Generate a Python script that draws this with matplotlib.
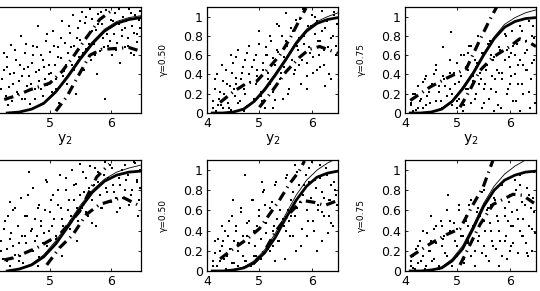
import matplotlib
matplotlib.use("Agg")
import matplotlib.pyplot as plt

# scatter points, one pair of lists per panel (row, column)
a_x = [4.22, 4.25, 4.28, 4.3, 4.33, 4.36, 4.38, 4.41, 4.44, 4.46, 4.5, 4.52, 4.55, 4.57, 4.6, 4.62, 4.65, 4.68, 4.7, 4.73, 4.76, 4.78, 4.8, 4.83, 4.86, 4.88, 4.9, 4.93, 4.96, 4.98, 5.0, 5.03, 5.05, 5.08, 5.1, 5.13, 5.15, 5.18, 5.2, 5.23, 5.25, 5.28, 5.3, 5.33, 5.36, 5.38, 5.4, 5.43, 5.46, 5.48, 5.5, 5.53, 5.56, 5.58, 5.6, 5.63, 5.66, 5.68, 5.7, 5.73, 5.76, 5.78, 5.8, 5.83, 5.86, 5.88, 5.9, 5.93, 5.96, 5.98, 6.0, 6.03, 6.06, 6.08, 6.1, 6.13, 6.16, 6.18, 6.2, 6.23, 6.26, 6.28, 6.3, 6.33, 6.36, 6.38, 6.4, 6.43, 6.46, 6.48]
a_y = [0.35, 0.62, 0.18, 0.48, 0.27, 0.71, 0.12, 0.41, 0.55, 0.22, 0.33, 0.8, 0.15, 0.46, 0.62, 0.28, 0.38, 0.09, 0.52, 0.7, 0.25, 0.43, 0.9, 0.33, 0.6, 0.18, 0.48, 0.75, 0.29, 0.4, 0.63, 0.22, 0.85, 0.5, 0.35, 0.68, 0.1, 0.57, 0.95, 0.44, 0.73, 0.3, 0.62, 0.83, 0.5, 1.02, 0.7, 0.2, 0.88, 0.58, 0.76, 1.05, 0.45, 0.93, 0.66, 0.81, 1.08, 0.55, 0.98, 0.72, 0.86, 0.4, 1.03, 0.64, 0.92, 0.78, 0.15, 1.07, 0.7, 0.88, 0.97, 0.6, 0.82, 1.04, 0.73, 0.92, 0.52, 0.86, 1.0, 0.68, 0.95, 0.78, 1.08, 0.62, 0.9, 0.83, 1.02, 0.74, 0.96, 0.88]

b_x = [4.12, 4.15, 4.18, 4.2, 4.23, 4.26, 4.3, 4.33, 4.36, 4.4, 4.43, 4.46, 4.5, 4.53, 4.56, 4.6, 4.63, 4.66, 4.7, 4.73, 4.76, 4.8, 4.83, 4.86, 4.9, 4.93, 4.96, 5.0, 5.03, 5.06, 5.1, 5.13, 5.16, 5.2, 5.23, 5.26, 5.3, 5.33, 5.36, 5.4, 5.43, 5.46, 5.5, 5.53, 5.56, 5.6, 5.63, 5.66, 5.7, 5.73, 5.76, 5.8, 5.83, 5.86, 5.9, 5.93, 5.96, 6.0, 6.03, 6.06, 6.1, 6.13, 6.16, 6.2, 6.23, 6.26, 6.3, 6.33, 6.36, 6.4, 6.43, 6.46, 6.48, 4.45, 4.7, 5.05, 5.45, 5.9, 6.25, 4.95, 5.25, 5.75, 6.1, 4.3, 4.55, 5.15]
b_y = [0.05, 0.25, 0.02, 0.4, 0.15, 0.08, 0.33, 0.2, 0.45, 0.1, 0.28, 0.03, 0.52, 0.18, 0.36, 0.65, 0.12, 0.42, 0.25, 0.55, 0.07, 0.7, 0.32, 0.48, 0.15, 0.6, 0.38, 0.85, 0.22, 0.52, 0.05, 0.68, 0.42, 0.3, 0.75, 0.57, 0.14, 0.92, 0.63, 0.35, 0.8, 0.48, 1.04, 0.7, 0.25, 0.88, 0.55, 0.4, 0.96, 0.65, 0.78, 0.3, 1.08, 0.72, 0.52, 0.9, 0.62, 1.02, 0.42, 0.82, 0.95, 0.6, 0.75, 1.06, 0.5, 0.88, 0.68, 0.98, 0.35, 0.8, 1.05, 0.6, 0.92, 0.6, 0.02, 0.12, 0.15, 0.25, 0.28, 0.45, 0.05, 0.5, 0.45, 0.05, 0.3, 0.6]

c_x = [4.12, 4.15, 4.2, 4.25, 4.3, 4.35, 4.4, 4.45, 4.5, 4.55, 4.6, 4.65, 4.7, 4.72, 4.75, 4.8, 4.85, 4.88, 4.9, 4.95, 5.0, 5.03, 5.06, 5.1, 5.13, 5.16, 5.2, 5.23, 5.26, 5.3, 5.33, 5.36, 5.4, 5.43, 5.46, 5.5, 5.53, 5.56, 5.6, 5.63, 5.66, 5.7, 5.73, 5.76, 5.8, 5.83, 5.86, 5.9, 5.93, 5.96, 6.0, 6.03, 6.06, 6.1, 6.13, 6.16, 6.2, 6.23, 6.26, 6.3, 6.33, 6.36, 6.4, 6.43, 6.46, 6.48, 6.45, 6.38, 6.2, 6.0, 5.7, 5.5, 4.6, 5.0, 5.2, 5.8, 6.1, 6.3, 5.95, 5.45, 4.85, 4.4, 6.25, 6.05, 5.65, 5.35]
c_y = [0.1, 0.02, 0.2, 0.05, 0.15, 0.32, 0.08, 0.22, 0.01, 0.4, 0.12, 0.28, 0.05, 0.68, 0.35, 0.18, 0.42, 0.84, 0.08, 0.3, 0.52, 0.15, 0.38, 0.02, 0.6, 0.25, 0.45, 0.7, 0.1, 0.33, 0.55, 0.2, 0.8, 0.42, 0.05, 0.62, 0.3, 0.5, 0.15, 0.75, 0.38, 0.58, 0.22, 0.45, 0.68, 0.05, 0.35, 0.55, 0.8, 0.25, 0.48, 0.62, 0.12, 0.4, 0.72, 0.3, 0.55, 0.85, 0.2, 0.45, 0.65, 0.95, 0.35, 0.52, 0.78, 0.1, 0.9, 0.05, 0.02, 0.3, 0.02, 0.25, 0.5, 0.05, 0.62, 0.42, 0.6, 0.75, 0.65, 0.35, 0.25, 0.38, 0.5, 0.85, 0.6, 0.48]

d_x = [4.2, 4.23, 4.27, 4.3, 4.34, 4.37, 4.4, 4.43, 4.47, 4.5, 4.53, 4.56, 4.6, 4.63, 4.66, 4.7, 4.73, 4.76, 4.8, 4.83, 4.86, 4.9, 4.93, 4.96, 5.0, 5.03, 5.06, 5.1, 5.13, 5.16, 5.2, 5.23, 5.26, 5.3, 5.33, 5.36, 5.4, 5.43, 5.46, 5.5, 5.53, 5.56, 5.6, 5.63, 5.66, 5.7, 5.73, 5.76, 5.8, 5.83, 5.86, 5.9, 5.93, 5.96, 6.0, 6.03, 6.06, 6.1, 6.13, 6.16, 6.2, 6.23, 6.26, 6.3, 6.33, 6.36, 6.4, 6.43, 6.46, 6.48, 4.5, 4.8, 5.2, 4.35, 4.65, 5.0, 5.45, 5.7, 6.15, 6.45]
d_y = [0.3, 0.12, 0.5, 0.22, 0.05, 0.38, 0.6, 0.16, 0.45, 0.28, 0.72, 0.08, 0.35, 0.55, 0.2, 0.42, 0.82, 0.3, 0.62, 0.14, 0.5, 0.38, 0.9, 0.25, 0.58, 0.45, 0.75, 0.32, 0.65, 0.95, 0.52, 0.28, 0.8, 0.6, 0.42, 1.0, 0.7, 0.86, 0.5, 1.06, 0.62, 0.78, 0.92, 0.55, 1.04, 0.7, 0.85, 0.45, 0.98, 0.75, 0.62, 1.08, 0.82, 0.92, 0.68, 1.02, 0.78, 0.58, 0.95, 0.85, 0.72, 1.05, 0.9, 0.65, 0.98, 0.8, 1.07, 0.88, 0.7, 1.0, 0.1, 0.05, 0.15, 0.68, 0.98, 0.3, 0.3, 0.48, 0.62, 0.55]

e_x = [4.12, 4.16, 4.2, 4.24, 4.28, 4.32, 4.36, 4.4, 4.44, 4.48, 4.52, 4.56, 4.6, 4.64, 4.68, 4.72, 4.76, 4.8, 4.84, 4.88, 4.92, 4.96, 5.0, 5.04, 5.08, 5.12, 5.16, 5.2, 5.24, 5.28, 5.32, 5.36, 5.4, 5.44, 5.48, 5.52, 5.56, 5.6, 5.64, 5.68, 5.72, 5.76, 5.8, 5.84, 5.88, 5.92, 5.96, 6.0, 6.04, 6.08, 6.12, 6.16, 6.2, 6.24, 6.28, 6.32, 6.36, 6.4, 6.44, 6.48, 4.3, 4.6, 4.9, 5.1, 5.3, 5.5, 5.7, 5.9, 6.1, 6.3, 6.45, 4.5, 5.05, 5.6, 6.2, 5.25, 4.75, 5.95, 6.35, 5.45]
e_y = [0.1, 0.3, 0.05, 0.2, 0.45, 0.12, 0.02, 0.35, 0.22, 0.55, 0.08, 0.4, 0.28, 0.62, 0.15, 0.95, 0.35, 0.5, 0.05, 0.7, 0.25, 0.45, 0.6, 0.12, 0.8, 0.38, 0.55, 0.2, 0.68, 0.45, 0.88, 0.3, 0.6, 0.75, 0.12, 0.95, 0.5, 0.7, 0.35, 1.05, 0.62, 0.85, 0.25, 0.75, 0.95, 0.5, 0.68, 1.08, 0.4, 0.82, 0.6, 0.92, 0.3, 0.72, 1.02, 0.55, 0.85, 0.45, 0.98, 0.65, 0.3, 0.05, 0.15, 0.65, 0.1, 0.4, 0.2, 0.35, 0.2, 0.38, 0.8, 0.7, 0.88, 0.55, 0.58, 0.25, 0.1, 0.88, 0.7, 0.52]

f_x = [4.12, 4.16, 4.2, 4.25, 4.3, 4.35, 4.4, 4.45, 4.5, 4.55, 4.6, 4.65, 4.7, 4.75, 4.8, 4.82, 4.85, 4.9, 4.95, 5.0, 5.03, 5.06, 5.1, 5.13, 5.16, 5.2, 5.23, 5.26, 5.3, 5.33, 5.36, 5.4, 5.43, 5.46, 5.5, 5.53, 5.56, 5.6, 5.63, 5.66, 5.7, 5.73, 5.76, 5.8, 5.83, 5.86, 5.9, 5.93, 5.96, 6.0, 6.03, 6.06, 6.1, 6.13, 6.16, 6.2, 6.23, 6.26, 6.3, 6.33, 6.36, 6.4, 6.43, 6.46, 6.48, 4.5, 5.0, 5.5, 6.0, 6.45, 5.2, 5.8, 6.2, 5.4, 5.9, 6.35, 4.7, 6.05, 5.65, 6.25]
f_y = [0.05, 0.15, 0.02, 0.25, 0.1, 0.4, 0.05, 0.2, 0.3, 0.12, 0.45, 0.02, 0.25, 0.35, 0.15, 0.75, 0.5, 0.05, 0.3, 0.42, 0.6, 0.2, 0.35, 0.08, 0.5, 0.28, 0.65, 0.15, 0.42, 0.05, 0.7, 0.3, 0.55, 0.18, 0.8, 0.4, 0.6, 0.1, 0.48, 0.3, 0.72, 0.22, 0.55, 0.4, 0.85, 0.15, 0.62, 0.35, 0.5, 0.75, 0.25, 0.45, 0.9, 0.6, 0.18, 0.4, 0.68, 0.52, 0.28, 0.82, 0.45, 0.62, 0.2, 0.98, 0.38, 0.55, 0.15, 0.25, 0.2, 0.72, 0.45, 0.05, 0.85, 0.62, 0.3, 0.15, 0.45, 0.58, 0.65, 0.35]

# second batch of scatter points
more_x_left = [4.2, 4.24, 4.29, 4.32, 4.35, 4.4, 4.43, 4.48, 4.51, 4.54, 4.59, 4.61, 4.64, 4.69, 4.72, 4.75, 4.79, 4.82, 4.85, 4.89, 4.92, 4.95, 4.99, 5.02, 5.07, 5.11, 5.14, 5.19, 5.22, 5.27, 5.31, 5.35, 5.39, 5.44, 5.49, 5.54, 5.59, 5.64, 5.69, 5.74, 5.79, 5.84, 5.89, 5.94, 5.99, 6.04, 6.09, 6.14, 6.19, 6.24, 6.29, 6.34, 6.39, 6.44, 6.49]
more_x = [4.12, 4.16, 4.21, 4.25, 4.29, 4.34, 4.38, 4.42, 4.47, 4.51, 4.55, 4.6, 4.64, 4.68, 4.73, 4.77, 4.81, 4.86, 4.9, 4.94, 4.99, 5.03, 5.07, 5.12, 5.16, 5.2, 5.25, 5.29, 5.33, 5.38, 5.42, 5.46, 5.51, 5.55, 5.59, 5.64, 5.68, 5.72, 5.77, 5.81, 5.85, 5.9, 5.94, 5.98, 6.03, 6.07, 6.11, 6.16, 6.2, 6.24, 6.29, 6.33, 6.37, 6.42, 6.46]
more_a_y = [0.25, 0.45, 0.58, 0.08, 0.4, 0.3, 0.65, 0.2, 0.5, 0.38, 0.15, 0.72, 0.48, 0.3, 0.6, 0.15, 0.68, 0.45, 0.25, 0.55, 0.35, 0.82, 0.5, 0.42, 0.7, 0.25, 0.58, 0.78, 0.38, 0.5, 0.9, 0.68, 0.45, 0.78, 0.95, 0.62, 1.0, 0.72, 0.85, 0.6, 0.92, 1.05, 0.68, 0.82, 0.75, 0.95, 0.65, 1.08, 0.8, 0.88, 0.7, 1.04, 0.6, 0.82, 1.06]
more_b_y = [0.12, 0.35, 0.08, 0.22, 0.5, 0.15, 0.3, 0.05, 0.42, 0.25, 0.58, 0.1, 0.35, 0.48, 0.2, 0.62, 0.4, 0.1, 0.55, 0.3, 0.72, 0.18, 0.45, 0.6, 0.35, 0.8, 0.22, 0.5, 0.65, 0.9, 0.42, 0.58, 0.75, 0.2, 0.62, 0.85, 0.45, 0.7, 0.98, 0.55, 0.8, 0.38, 0.68, 0.9, 0.58, 1.0, 0.75, 0.48, 0.85, 0.65, 0.95, 0.4, 0.78, 1.02, 0.7]
more_c_y = [0.08, 0.2, 0.03, 0.28, 0.12, 0.05, 0.35, 0.18, 0.1, 0.3, 0.02, 0.45, 0.22, 0.12, 0.38, 0.28, 0.08, 0.55, 0.2, 0.42, 0.12, 0.32, 0.6, 0.08, 0.48, 0.25, 0.7, 0.38, 0.15, 0.52, 0.3, 0.62, 0.1, 0.45, 0.72, 0.25, 0.55, 0.35, 0.08, 0.65, 0.42, 0.82, 0.2, 0.58, 0.38, 0.7, 0.12, 0.5, 0.9, 0.3, 0.62, 0.45, 0.22, 0.8, 0.55]
more_d_y = [0.2, 0.42, 0.1, 0.55, 0.32, 0.25, 0.62, 0.45, 0.15, 0.35, 0.55, 0.28, 0.75, 0.4, 0.2, 0.52, 0.35, 0.65, 0.45, 0.28, 0.6, 0.88, 0.4, 0.7, 0.52, 0.35, 0.8, 0.62, 0.45, 0.92, 0.7, 0.55, 0.85, 0.62, 0.75, 0.98, 0.58, 0.82, 0.7, 1.02, 0.88, 0.62, 0.95, 0.78, 1.05, 0.85, 0.72, 0.92, 1.0, 0.8, 0.95, 0.75, 1.08, 0.9, 0.82]
more_e_y = [0.05, 0.18, 0.32, 0.1, 0.25, 0.4, 0.15, 0.5, 0.08, 0.3, 0.45, 0.2, 0.58, 0.35, 0.1, 0.48, 0.28, 0.7, 0.4, 0.15, 0.55, 0.32, 0.78, 0.48, 0.22, 0.62, 0.4, 0.85, 0.52, 0.3, 0.72, 0.45, 0.92, 0.6, 0.35, 0.78, 0.55, 0.98, 0.68, 0.42, 0.85, 0.6, 1.02, 0.72, 0.5, 0.9, 0.65, 1.05, 0.78, 0.55, 0.95, 0.7, 0.48, 0.88, 0.75]
more_f_y = [0.1, 0.03, 0.22, 0.08, 0.3, 0.15, 0.02, 0.38, 0.2, 0.1, 0.42, 0.28, 0.05, 0.5, 0.32, 0.18, 0.6, 0.4, 0.1, 0.48, 0.25, 0.65, 0.35, 0.12, 0.55, 0.3, 0.7, 0.45, 0.2, 0.58, 0.35, 0.78, 0.5, 0.15, 0.62, 0.4, 0.25, 0.7, 0.5, 0.3, 0.85, 0.55, 0.12, 0.68, 0.45, 0.28, 0.8, 0.52, 0.95, 0.35, 0.65, 0.18, 0.75, 0.42, 0.58]

# smooth curves (thick = true, thin = estimate)
curve_x_a = [4.3, 4.5, 4.7, 4.9, 5.1, 5.3, 5.5, 5.7, 5.9, 6.1, 6.3, 6.5]
thick_a = [0.0, 0.01, 0.04, 0.1, 0.22, 0.38, 0.56, 0.72, 0.85, 0.93, 0.97, 0.99]
thin_a = [0.0, 0.01, 0.04, 0.11, 0.23, 0.4, 0.58, 0.74, 0.87, 0.95, 0.99, 1.01]
curve_x = [4.1, 4.3, 4.5, 4.7, 4.9, 5.1, 5.3, 5.5, 5.7, 5.9, 6.1, 6.3, 6.5]
thick_b = [0.0, 0.0, 0.01, 0.04, 0.12, 0.24, 0.39, 0.55, 0.72, 0.85, 0.93, 0.97, 0.99]
thin_b = [0.0, 0.0, 0.01, 0.05, 0.13, 0.26, 0.41, 0.57, 0.74, 0.87, 0.95, 1.0, 1.04]
thick_c = [0.0, 0.0, 0.01, 0.04, 0.12, 0.25, 0.41, 0.6, 0.77, 0.89, 0.95, 0.98, 0.99]
thin_c = [0.0, 0.0, 0.01, 0.05, 0.13, 0.27, 0.43, 0.62, 0.79, 0.92, 0.99, 1.04, 1.07]
thick_d = [0.0, 0.02, 0.06, 0.14, 0.27, 0.44, 0.62, 0.78, 0.89, 0.95, 0.98, 0.99]
thin_d = [0.0, 0.02, 0.07, 0.16, 0.3, 0.47, 0.65, 0.8, 0.91, 0.98, 1.02, 1.05]
thick_e = [0.0, 0.0, 0.01, 0.03, 0.08, 0.18, 0.33, 0.52, 0.7, 0.84, 0.93, 0.97, 0.99]
thin_e = [0.0, 0.0, 0.01, 0.04, 0.1, 0.21, 0.37, 0.56, 0.75, 0.9, 1.0, 1.07, 1.12]
thick_f = [0.0, 0.0, 0.01, 0.03, 0.1, 0.22, 0.42, 0.64, 0.8, 0.9, 0.95, 0.98, 0.99]
thin_f = [0.0, 0.0, 0.01, 0.04, 0.12, 0.25, 0.45, 0.67, 0.84, 0.96, 1.04, 1.1, 1.14]

# dash-dot bands (upper / lower)
up_a_x = [4.25, 4.45, 4.67, 5.0, 5.2, 5.38, 5.6, 5.82, 6.05]
up_a_y = [0.14, 0.18, 0.24, 0.31, 0.43, 0.58, 0.78, 0.97, 1.08]
lo_a_x = [5.1, 5.28, 5.49, 5.66, 5.85, 6.1, 6.3, 6.5]
lo_a_y = [0.02, 0.17, 0.41, 0.6, 0.66, 0.67, 0.68, 0.64]
up_b_x = [4.25, 4.5, 4.76, 4.95, 5.2, 5.39, 5.58, 5.77, 5.89]
up_b_y = [0.11, 0.22, 0.31, 0.33, 0.48, 0.6, 0.77, 0.97, 1.09]
lo_b_x = [5.0, 5.26, 5.51, 5.77, 5.95, 6.15, 6.35, 6.5]
lo_b_y = [0.06, 0.24, 0.43, 0.58, 0.66, 0.69, 0.65, 0.62]
up_c_x = [4.1, 4.48, 4.79, 5.17, 5.43, 5.62, 5.75]
up_c_y = [0.13, 0.27, 0.36, 0.46, 0.76, 0.97, 1.1]
lo_c_x = [5.05, 5.24, 5.43, 5.68, 6.0, 6.19, 6.38, 6.5]
lo_c_y = [0.06, 0.24, 0.44, 0.58, 0.69, 0.77, 0.73, 0.69]
up_d_x = [4.25, 4.4, 4.79, 5.16, 5.49, 5.77, 5.98]
up_d_y = [0.11, 0.13, 0.23, 0.36, 0.59, 0.93, 1.06]
lo_d_x = [4.95, 5.16, 5.38, 5.6, 5.82, 6.2, 6.5]
lo_d_y = [0.06, 0.23, 0.36, 0.56, 0.66, 0.73, 0.64]
up_e_x = [4.25, 4.5, 4.75, 5.0, 5.19, 5.38, 5.57, 5.76, 5.86]
up_e_y = [0.12, 0.22, 0.31, 0.42, 0.56, 0.7, 0.86, 0.99, 1.09]
lo_e_x = [4.88, 5.1, 5.32, 5.57, 5.82, 6.05, 6.25, 6.5]
lo_e_y = [0.07, 0.2, 0.4, 0.57, 0.7, 0.68, 0.65, 0.7]
up_f_x = [4.1, 4.48, 4.79, 5.05, 5.3, 5.49, 5.68]
up_f_y = [0.14, 0.27, 0.36, 0.42, 0.66, 0.83, 1.1]
lo_f_x = [5.05, 5.24, 5.43, 5.68, 6.06, 6.25, 6.44, 6.5]
lo_f_y = [0.06, 0.26, 0.46, 0.66, 0.76, 0.75, 0.68, 0.66]

gamma_labels = ["\u03b3=0.25", "\u03b3=0.50", "\u03b3=0.75"]
x_ticks = [4, 5, 6]
y_ticks = [0, 0.2, 0.4, 0.6, 0.8, 1]
y_tick_labels = ["0", "0.2", "0.4", "0.6", "0.8", "1"]

panels = [
    (a_x + more_x_left, a_y + more_a_y, curve_x_a, thick_a, thin_a, up_a_x, up_a_y, lo_a_x, lo_a_y),
    (b_x + more_x, b_y + more_b_y, curve_x, thick_b, thin_b, up_b_x, up_b_y, lo_b_x, lo_b_y),
    (c_x + more_x, c_y + more_c_y, curve_x, thick_c, thin_c, up_c_x, up_c_y, lo_c_x, lo_c_y),
    (d_x + more_x_left, d_y + more_d_y, curve_x_a, thick_d, thin_d, up_d_x, up_d_y, lo_d_x, lo_d_y),
    (e_x + more_x, e_y + more_e_y, curve_x, thick_e, thin_e, up_e_x, up_e_y, lo_e_x, lo_e_y),
    (f_x + more_x, f_y + more_f_y, curve_x, thick_f, thin_f, up_f_x, up_f_y, lo_f_x, lo_f_y),
]

W, H = 540, 291
fig = plt.figure(figsize=(W / 100, H / 100), dpi=100)

# axes boxes in pixels: (left, right) per column, (top, bottom) per row
cols = [(-11, 141), (207, 338), (405, 536)]
rows = [(7, 113), (160, 271)]

for i, p in enumerate(panels):
    r, c = divmod(i, 3)
    l, rr = cols[c]
    t, b = rows[r]
    ax = fig.add_axes([l / W, 1 - b / H, (rr - l) / W, (b - t) / H])
    sx, sy, cx, thick, thin, ux, uy, lx, ly = p
    ax.plot(sx, sy, "s", color="black", markersize=1.6, markeredgewidth=0)
    ax.plot(cx, thin, "-", color="black", lw=0.6)
    ax.plot(cx, thick, "-", color="black", lw=2.0)
    ax.plot(ux, uy, color="black", lw=2.3, linestyle=(0, (3, 1.6, 0.4, 1.6)))
    ax.plot(lx, ly, color="black", lw=2.3, linestyle=(0, (3, 1.6, 0.4, 1.6)))
    ax.set_xlim(4, 6.5)
    ax.set_ylim(0, 1.1)
    ax.set_xticks(x_ticks)
    ax.set_yticks(y_ticks)
    ax.set_yticklabels(y_tick_labels)
    ax.tick_params(direction="in", length=2.5, width=0.6, labelsize=9, pad=3,
                   top=True, right=True)
    for s in ax.spines.values():
        s.set_linewidth(0.9)
    ax.set_xlabel(r"$\mathregular{y_2}$", fontsize=10, labelpad=1)
    ax.set_ylabel(gamma_labels[c], fontsize=6.5)
    ax.yaxis.set_label_coords(-0.30, 0.5)

fig.savefig("out.png", dpi=100)
